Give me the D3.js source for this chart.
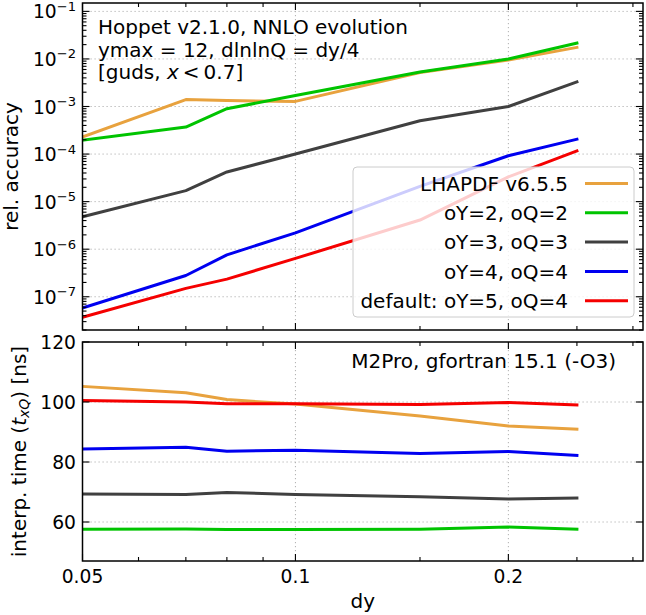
<!DOCTYPE html>
<html>
<head>
<meta charset="utf-8">
<script src="https://cdn.jsdelivr.net/npm/d3@7"></script>
<style>
  html, body { margin: 0; padding: 0; background: #fff; }
  svg text { font-family: "DejaVu Sans", sans-serif; fill: #000; }
</style>
</head>
<body>
<svg id="chart" width="646" height="615"></svg>
<script>
// ---------- data ----------
const dy = [0.05, 0.07, 0.08, 0.1, 0.15, 0.2, 0.25];

const accLHAPDF = [2.3e-4, 1.4e-3, 1.33e-3, 1.28e-3, 5.2e-3, 9.5e-3, 1.75e-2];
const acc22     = [1.95e-4, 3.7e-4, 9.0e-4, 1.7e-3, 5.3e-3, 1.0e-2, 2.15e-2];
const acc33     = [4.8e-6, 1.7e-5, 4.2e-5, 1.0e-4, 5.0e-4, 1.0e-3, 3.3e-3];
const acc44     = [5.8e-8, 2.8e-7, 7.6e-7, 2.2e-6, 2.1e-5, 9.2e-5, 2.05e-4];
const acc54     = [3.7e-8, 1.5e-7, 2.35e-7, 6.4e-7, 4.1e-6, 3.3e-5, 1.17e-4];

const timeLHAPDF = [105.2, 103.1, 100.8, 99.3, 95.3, 92.0, 90.9];
const time22     = [57.6, 57.7, 57.5, 57.5, 57.6, 58.3, 57.6];
const time33     = [69.3, 69.2, 69.8, 69.2, 68.4, 67.7, 68.0];
const time44     = [84.3, 84.9, 83.6, 83.9, 82.8, 83.5, 82.2];
const time54     = [100.5, 100.0, 99.4, 99.4, 99.2, 99.8, 99.0];

const seriesNames = ["LHAPDF v6.5.5", "oY=2, oQ=2", "oY=3, oQ=3", "oY=4, oQ=4", "default: oY=5, oQ=4"];
const seriesColors = ["#e8a23e", "#00c400", "#404040", "#0000f0", "#f50000"];
const accSeries = [accLHAPDF, acc22, acc33, acc44, acc54];
const timeSeries = [timeLHAPDF, time22, time33, time44, time54];

const xMajorTicks = [0.05, 0.1, 0.2];
const xMinorTicks = [0.06, 0.07, 0.08, 0.09, 0.15, 0.25, 0.3];
const xTickLabels = ["0.05", "0.1", "0.2"];
const accMajorExp = [-7, -6, -5, -4, -3, -2, -1];
const timeTicks = [60, 80, 100, 120];

// ---------- layout ----------
const L = 82.5, R = 643;
const top1 = 3, bot1 = 330, top2 = 342, bot2 = 561;

const svg = d3.select("#chart");
const x = d3.scaleLog().domain([0.05, 0.31]).range([L, R]);
const yA = d3.scaleLog().domain([2e-8, 0.15]).range([bot1, top1]);
const yT = d3.scaleLinear().domain([47, 120]).range([bot2, top2]);

const defs = svg.append("defs");
defs.append("clipPath").attr("id", "clip1").append("rect")
  .attr("x", L).attr("y", top1).attr("width", R - L).attr("height", bot1 - top1);
defs.append("clipPath").attr("id", "clip2").append("rect")
  .attr("x", L).attr("y", top2).attr("width", R - L).attr("height", bot2 - top2);

const gridColor = "#b0b0b0";
const gridDash = "1.2,2.8";

function drawPanel(yScale, yTop, yBot, yGridVals, clipId, series) {
  const g = svg.append("g");
  g.selectAll(null).data(yGridVals).enter().append("line")
    .attr("x1", L).attr("x2", R)
    .attr("y1", d => yScale(d)).attr("y2", d => yScale(d))
    .attr("stroke", gridColor).attr("stroke-width", 1).attr("stroke-dasharray", gridDash);
  g.selectAll(null).data([0.1, 0.2]).enter().append("line")
    .attr("x1", d => x(d)).attr("x2", d => x(d))
    .attr("y1", yTop).attr("y2", yBot)
    .attr("stroke", gridColor).attr("stroke-width", 1).attr("stroke-dasharray", gridDash);
  const lg = g.append("g").attr("clip-path", `url(#${clipId})`);
  series.forEach((vals, i) => {
    const line = d3.line().x((d, j) => x(dy[j])).y(d => yScale(d));
    lg.append("path").datum(vals)
      .attr("d", line)
      .attr("fill", "none")
      .attr("stroke", seriesColors[i])
      .attr("stroke-width", 3)
      .attr("stroke-linejoin", "round")
      .attr("stroke-linecap", "square");
  });
  return g;
}

function drawFrameAndTicks(yScale, yTop, yBot, yMajor, yMinor) {
  const g = svg.append("g");
  const tk = (x1, y1, x2, y2) => g.append("line")
    .attr("x1", x1).attr("y1", y1).attr("x2", x2).attr("y2", y2)
    .attr("stroke", "#000").attr("stroke-width", 1.1);
  const maj = 7, mnr = 4;
  xMajorTicks.forEach(v => { tk(x(v), yBot, x(v), yBot - maj); tk(x(v), yTop, x(v), yTop + maj); });
  xMinorTicks.forEach(v => { tk(x(v), yBot, x(v), yBot - mnr); tk(x(v), yTop, x(v), yTop + mnr); });
  yMajor.forEach(v => { const yy = yScale(v); tk(L, yy, L + maj, yy); tk(R, yy, R - maj, yy); });
  yMinor.forEach(v => { const yy = yScale(v); tk(L, yy, L + mnr, yy); tk(R, yy, R - mnr, yy); });
  g.append("rect").attr("x", L).attr("y", yTop).attr("width", R - L).attr("height", yBot - yTop)
    .attr("fill", "none").attr("stroke", "#000").attr("stroke-width", 1.5);
  return g;
}

// ---------- top panel ----------
const accMajor = accMajorExp.map(e => Math.pow(10, e));
const accMinor = [];
for (let e = -8; e <= -1; e++) for (let m = 2; m <= 9; m++) {
  const v = m * Math.pow(10, e);
  if (v >= 2e-8 && v <= 0.15) accMinor.push(v);
}
drawPanel(yA, top1, bot1, accMajor, "clip1", accSeries);

// legend
const lgX = 353, lgY = 167, lgW = 281, lgH = 150;
svg.append("rect").attr("x", lgX).attr("y", lgY).attr("width", lgW).attr("height", lgH)
  .attr("rx", 4).attr("fill", "#fff").attr("fill-opacity", 0.8)
  .attr("stroke", "#cccccc").attr("stroke-width", 1);
const rowY = [183.5, 212.8, 242.1, 271.4, 300.7];
seriesNames.forEach((name, i) => {
  svg.append("text").attr("x", 568).attr("y", rowY[i] + 7.2)
    .attr("text-anchor", "end").attr("font-size", 20).text(name);
  svg.append("line").attr("x1", 585).attr("x2", 628).attr("y1", rowY[i]).attr("y2", rowY[i])
    .attr("stroke", seriesColors[i]).attr("stroke-width", 3);
});

drawFrameAndTicks(yA, top1, bot1, accMajor, accMinor);

// y tick labels top panel
accMajorExp.forEach(e => {
  const t = svg.append("text").attr("x", 76).attr("y", yA(Math.pow(10, e)) + 7)
    .attr("text-anchor", "end").attr("font-size", 18.7);
  t.append("tspan").text("10");
  t.append("tspan").attr("dy", -7.5).attr("font-size", 13.1).text("\u2212" + Math.abs(e));
});

// annotation top
const ann = svg.append("g");
ann.append("text").attr("x", 98).attr("y", 34.3).attr("font-size", 20).text("Hoppet v2.1.0, NNLO evolution");
ann.append("text").attr("x", 98).attr("y", 56.7).attr("font-size", 20).text("ymax = 12, dlnlnQ = dy/4");
const a3 = ann.append("text").attr("x", 98).attr("y", 79.2).attr("font-size", 20);
a3.append("tspan").text("[guds, ");
a3.append("tspan").attr("font-style", "italic").text("x");
a3.append("tspan").text("\u2009<\u20090.7]");

// y label top
svg.append("text").attr("transform", `translate(18,${(top1 + bot1) / 2}) rotate(-90)`)
  .attr("text-anchor", "middle").attr("font-size", 20).text("rel. accuracy");

// ---------- bottom panel ----------
drawPanel(yT, top2, bot2, [60, 80, 100], "clip2", timeSeries);
drawFrameAndTicks(yT, top2, bot2, timeTicks, []);

timeTicks.forEach(v => {
  svg.append("text").attr("x", 76).attr("y", yT(v) + 7)
    .attr("text-anchor", "end").attr("font-size", 18.7).text(v);
});
xMajorTicks.forEach((v, i) => {
  svg.append("text").attr("x", x(v)).attr("y", 583)
    .attr("text-anchor", "middle").attr("font-size", 18.7).text(xTickLabels[i]);
});

svg.append("text").attr("x", 616).attr("y", 368).attr("text-anchor", "end")
  .attr("font-size", 20).text("M2Pro, gfortran 15.1 (-O3)");

const yl2 = svg.append("text").attr("transform", `translate(25.5,${(top2 + bot2) / 2}) rotate(-90)`)
  .attr("text-anchor", "middle").attr("font-size", 20);
yl2.append("tspan").text("interp. time (");
yl2.append("tspan").attr("font-style", "italic").text("t");
yl2.append("tspan").attr("font-style", "italic").attr("font-size", 14).attr("dy", 3).text("xQ");
yl2.append("tspan").attr("dy", -3).text(") [ns]");

svg.append("text").attr("x", (L + R) / 2).attr("y", 608).attr("text-anchor", "middle")
  .attr("font-size", 20).text("dy");
</script>
</body>
</html>
